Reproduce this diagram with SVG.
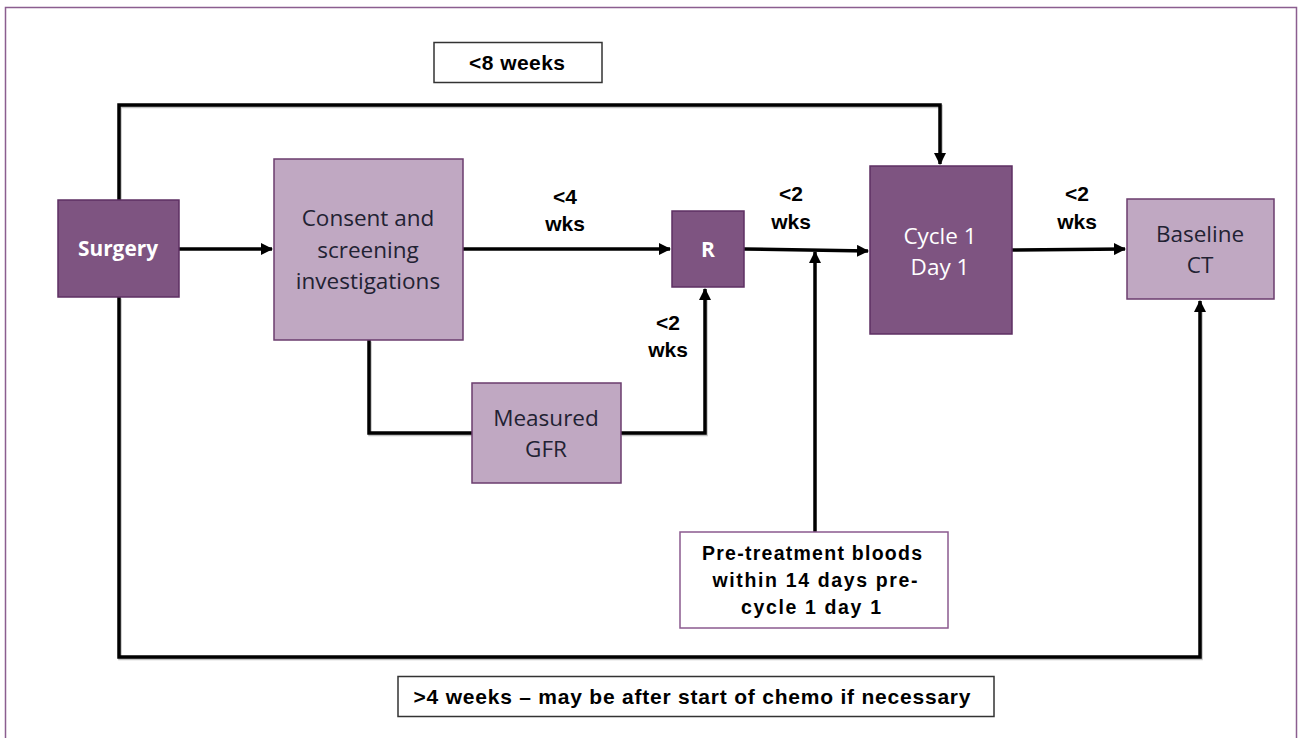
<svg xmlns="http://www.w3.org/2000/svg" width="1298" height="738" viewBox="0 0 1298 738">
<defs>
<marker id="ah" markerWidth="12" markerHeight="12" viewBox="0 0 12 12" refX="11" refY="6" orient="auto" markerUnits="userSpaceOnUse">
<path d="M0,0 L12,6 L0,12 Z" fill="#000"/>
</marker>
</defs>
<style>
.dark{fill:#7E5481;stroke:#5E2F63;stroke-width:1.5}
.light{fill:#C0A8C2;stroke:#6B3D6E;stroke-width:1.5}
.box{fill:#fff;stroke:#333;stroke-width:1.5}
.pbox{fill:#fff;stroke:#8B5A8F;stroke-width:1.5}
.ln{fill:none;stroke:#000;stroke-width:3.5}
.sh{fill:none;stroke:#999;stroke-width:3.5;opacity:0.6}
.nt{font-family:"Open Sans","Noto Sans",sans-serif;font-size:22.5px;fill:#222233;text-anchor:middle}
.wt{font-family:"Open Sans","Noto Sans",sans-serif;font-size:22.5px;fill:#fff;text-anchor:middle}
.wb{font-family:"Open Sans","Noto Sans",sans-serif;font-size:21px;font-weight:bold;fill:#fff;text-anchor:middle}
.lb{font-family:"Liberation Sans",Arial,sans-serif;font-weight:bold;font-size:21px;fill:#000;text-anchor:middle}
.lbs{font-family:"Liberation Sans",Arial,sans-serif;font-weight:bold;font-size:19.5px;fill:#000;text-anchor:middle}
</style>
<rect x="5.5" y="7.5" width="1291" height="740" fill="#fff" stroke="#8B5E8F" stroke-width="1.5"/>
<g id="connectors">
<g transform="translate(1,1.5)">
<polyline class="sh" points="119,200 119,105 940,105 940,160"/>
<polyline class="sh" points="119,297 119,657 1200,657 1200,305"/>
<polyline class="sh" points="369,340 369,433 472,433"/>
<polyline class="sh" points="621,433 705,433 705,293"/>
</g>
<polyline class="ln" points="119,200 119,105 940,105 940,164" marker-end="url(#ah)"/>
<line class="ln" x1="179" y1="249" x2="272" y2="249" marker-end="url(#ah)"/>
<line class="ln" x1="463" y1="249" x2="670" y2="249" marker-end="url(#ah)"/>
<line class="ln" x1="744" y1="249" x2="868" y2="251" marker-end="url(#ah)"/>
<line class="ln" x1="1012" y1="250" x2="1125" y2="249" marker-end="url(#ah)"/>
<polyline class="ln" points="369,340 369,433 472,433"/>
<polyline class="ln" points="621,433 705,433 705,289" marker-end="url(#ah)"/>
<line class="ln" x1="815" y1="532" x2="815" y2="252" marker-end="url(#ah)"/>
<polyline class="ln" points="119,297 119,657 1200,657 1200,301" marker-end="url(#ah)"/>
</g>
<g id="label-8weeks">
<rect class="box" x="434" y="42.5" width="168" height="40"/>
<text class="lb" x="517" y="70" textLength="96" lengthAdjust="spacing">&lt;8 weeks</text>
</g>
<g id="label-4weeks">
<rect class="box" x="398" y="676.5" width="596" height="40"/>
<text class="lb" x="692" y="704" textLength="557" lengthAdjust="spacing">&gt;4 weeks – may be after start of chemo if necessary</text>
</g>
<g id="surgery">
<rect class="dark" x="58" y="200" width="121" height="97"/>
<text class="wb" x="118" y="256" textLength="80" lengthAdjust="spacingAndGlyphs">Surgery</text>
</g>
<g id="consent">
<rect class="light" x="274" y="159" width="189" height="181"/>
<text class="nt" x="368" y="226">Consent and</text>
<text class="nt" x="368" y="258">screening</text>
<text class="nt" x="368" y="289">investigations</text>
</g>
<g id="r">
<rect class="dark" x="672" y="211" width="72" height="76"/>
<text class="wb" x="708" y="257">R</text>
</g>
<g id="cycle1">
<rect class="dark" x="870" y="166" width="142" height="168"/>
<text class="wt" x="940" y="244">Cycle 1</text>
<text class="wt" x="940" y="275">Day 1</text>
</g>
<g id="baseline">
<rect class="light" x="1127" y="199" width="147" height="100"/>
<text class="nt" x="1200" y="242">Baseline</text>
<text class="nt" x="1200" y="273">CT</text>
</g>
<g id="gfr">
<rect class="light" x="472" y="383" width="149" height="100"/>
<text class="nt" x="546" y="426">Measured</text>
<text class="nt" x="546" y="457">GFR</text>
</g>
<g id="bloods">
<rect class="pbox" x="680" y="532" width="268" height="96"/>
<text class="lbs" x="812" y="560" textLength="220" lengthAdjust="spacing">Pre-treatment bloods</text>
<text class="lbs" x="815" y="587" textLength="205" lengthAdjust="spacing">within 14 days pre-</text>
<text class="lbs" x="811" y="614" textLength="140" lengthAdjust="spacing">cycle 1 day 1</text>
</g>
<g id="labels">
<text class="lb" x="565" y="204">&lt;4</text>
<text class="lb" x="565" y="231">wks</text>
<text class="lb" x="791" y="201">&lt;2</text>
<text class="lb" x="791" y="229">wks</text>
<text class="lb" x="1077" y="201">&lt;2</text>
<text class="lb" x="1077" y="229">wks</text>
<text class="lb" x="668" y="330">&lt;2</text>
<text class="lb" x="668" y="357">wks</text>
</g>
</svg>
